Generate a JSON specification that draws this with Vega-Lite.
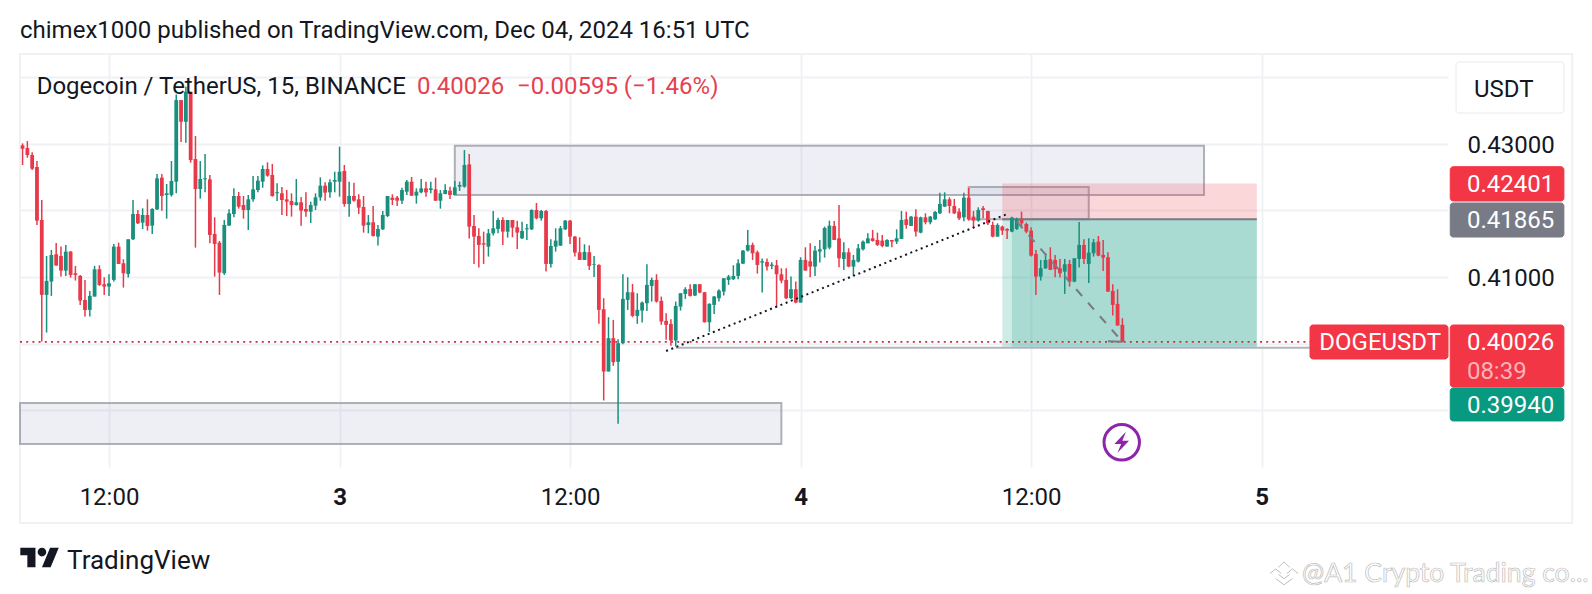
{
  "$schema": "https://vega.github.io/schema/vega-lite/v6.json",
  "width": 1428,
  "height": 413,
  "autosize": {"type": "none"},
  "padding": {"left": 20, "top": 54, "right": 144, "bottom": 127},
  "background": "white",
  "config": {"view": {"stroke": null}, "font": "Roboto"},
  "title": {
    "text": "chimex1000 published on TradingView.com, Dec 04, 2024 16:51 UTC",
    "anchor": "start",
    "frame": "group",
    "font": "Roboto",
    "fontSize": 24,
    "fontWeight": "normal",
    "color": "#131722",
    "baseline": "alphabetic",
    "offset": -9
  },
  "datasets": {
    "candles": [
      {"t":"2024-12-02T07:30:00Z","o":0.42975,"h":0.43005,"l":0.4268,"c":0.42925},
      {"t":"2024-12-02T07:45:00Z","o":0.42935,"h":0.4304,"l":0.4279,"c":0.4283},
      {"t":"2024-12-02T08:00:00Z","o":0.4283,"h":0.4287,"l":0.42605,"c":0.42625},
      {"t":"2024-12-02T08:15:00Z","o":0.4265,"h":0.4274,"l":0.4178,"c":0.41845},
      {"t":"2024-12-02T08:30:00Z","o":0.41855,"h":0.42155,"l":0.4003,"c":0.4073},
      {"t":"2024-12-02T08:45:00Z","o":0.4073,"h":0.41315,"l":0.40165,"c":0.4094},
      {"t":"2024-12-02T09:00:00Z","o":0.4093,"h":0.41405,"l":0.40715,"c":0.4133},
      {"t":"2024-12-02T09:15:00Z","o":0.4134,"h":0.4151,"l":0.4117,"c":0.4117},
      {"t":"2024-12-02T09:30:00Z","o":0.41315,"h":0.41455,"l":0.41005,"c":0.41095},
      {"t":"2024-12-02T09:45:00Z","o":0.41095,"h":0.4148,"l":0.41015,"c":0.4138},
      {"t":"2024-12-02T10:00:00Z","o":0.4138,"h":0.4139,"l":0.4099,"c":0.4103},
      {"t":"2024-12-02T10:15:00Z","o":0.41055,"h":0.41165,"l":0.40945,"c":0.4103},
      {"t":"2024-12-02T10:30:00Z","o":0.41015,"h":0.4103,"l":0.4058,"c":0.40645},
      {"t":"2024-12-02T10:45:00Z","o":0.40655,"h":0.40955,"l":0.40405,"c":0.40505},
      {"t":"2024-12-02T11:00:00Z","o":0.40505,"h":0.4079,"l":0.40405,"c":0.40715},
      {"t":"2024-12-02T11:15:00Z","o":0.40705,"h":0.41165,"l":0.40705,"c":0.41115},
      {"t":"2024-12-02T11:30:00Z","o":0.41115,"h":0.41175,"l":0.40865,"c":0.4088},
      {"t":"2024-12-02T11:45:00Z","o":0.4089,"h":0.40995,"l":0.4073,"c":0.40855},
      {"t":"2024-12-02T12:00:00Z","o":0.40855,"h":0.4104,"l":0.40715,"c":0.40905},
      {"t":"2024-12-02T12:15:00Z","o":0.40955,"h":0.41495,"l":0.4093,"c":0.41455},
      {"t":"2024-12-02T12:30:00Z","o":0.41455,"h":0.41515,"l":0.41195,"c":0.41195},
      {"t":"2024-12-02T12:45:00Z","o":0.41205,"h":0.41265,"l":0.4084,"c":0.41055},
      {"t":"2024-12-02T13:00:00Z","o":0.41045,"h":0.41565,"l":0.4099,"c":0.41565},
      {"t":"2024-12-02T13:15:00Z","o":0.41565,"h":0.42155,"l":0.41555,"c":0.41945},
      {"t":"2024-12-02T13:30:00Z","o":0.41945,"h":0.42005,"l":0.41795,"c":0.41805},
      {"t":"2024-12-02T13:45:00Z","o":0.41815,"h":0.4203,"l":0.4172,"c":0.4193},
      {"t":"2024-12-02T14:00:00Z","o":0.4193,"h":0.42165,"l":0.41695,"c":0.41765},
      {"t":"2024-12-02T14:15:00Z","o":0.4177,"h":0.4203,"l":0.41645,"c":0.4202},
      {"t":"2024-12-02T14:30:00Z","o":0.42015,"h":0.42545,"l":0.42005,"c":0.4248},
      {"t":"2024-12-02T14:45:00Z","o":0.4249,"h":0.42545,"l":0.41995,"c":0.42215},
      {"t":"2024-12-02T15:00:00Z","o":0.4223,"h":0.42395,"l":0.41875,"c":0.42255},
      {"t":"2024-12-02T15:15:00Z","o":0.4223,"h":0.4274,"l":0.42205,"c":0.4244},
      {"t":"2024-12-02T15:30:00Z","o":0.4243,"h":0.4374,"l":0.42255,"c":0.43655},
      {"t":"2024-12-02T15:45:00Z","o":0.43655,"h":0.43655,"l":0.43025,"c":0.4333},
      {"t":"2024-12-02T16:00:00Z","o":0.4333,"h":0.43855,"l":0.43015,"c":0.4378},
      {"t":"2024-12-02T16:15:00Z","o":0.4378,"h":0.4378,"l":0.42715,"c":0.42755},
      {"t":"2024-12-02T16:30:00Z","o":0.4277,"h":0.43115,"l":0.4144,"c":0.4232},
      {"t":"2024-12-02T16:45:00Z","o":0.4232,"h":0.4274,"l":0.42175,"c":0.4247},
      {"t":"2024-12-02T17:00:00Z","o":0.42465,"h":0.42845,"l":0.4227,"c":0.4248},
      {"t":"2024-12-02T17:15:00Z","o":0.42465,"h":0.4253,"l":0.41505,"c":0.4163},
      {"t":"2024-12-02T17:30:00Z","o":0.41645,"h":0.41895,"l":0.41005,"c":0.41495},
      {"t":"2024-12-02T17:45:00Z","o":0.41515,"h":0.4154,"l":0.4073,"c":0.41065},
      {"t":"2024-12-02T18:00:00Z","o":0.41055,"h":0.41855,"l":0.4103,"c":0.4178},
      {"t":"2024-12-02T18:15:00Z","o":0.4177,"h":0.42015,"l":0.4177,"c":0.41955},
      {"t":"2024-12-02T18:30:00Z","o":0.41945,"h":0.4233,"l":0.41895,"c":0.42215},
      {"t":"2024-12-02T18:45:00Z","o":0.42215,"h":0.42275,"l":0.42025,"c":0.42055},
      {"t":"2024-12-02T19:00:00Z","o":0.4208,"h":0.42215,"l":0.41875,"c":0.42005},
      {"t":"2024-12-02T19:15:00Z","o":0.42005,"h":0.4223,"l":0.41705,"c":0.42165},
      {"t":"2024-12-02T19:30:00Z","o":0.42165,"h":0.42515,"l":0.4213,"c":0.42315},
      {"t":"2024-12-02T19:45:00Z","o":0.42305,"h":0.42515,"l":0.4227,"c":0.42445},
      {"t":"2024-12-02T20:00:00Z","o":0.4243,"h":0.42675,"l":0.4234,"c":0.4262},
      {"t":"2024-12-02T20:15:00Z","o":0.4262,"h":0.4272,"l":0.42505,"c":0.4252},
      {"t":"2024-12-02T20:30:00Z","o":0.4253,"h":0.42695,"l":0.42205,"c":0.42215},
      {"t":"2024-12-02T20:45:00Z","o":0.42255,"h":0.42405,"l":0.4214,"c":0.4227},
      {"t":"2024-12-02T21:00:00Z","o":0.42255,"h":0.4235,"l":0.4193,"c":0.42155},
      {"t":"2024-12-02T21:15:00Z","o":0.42165,"h":0.42305,"l":0.41915,"c":0.4213},
      {"t":"2024-12-02T21:30:00Z","o":0.4214,"h":0.42255,"l":0.41905,"c":0.4208},
      {"t":"2024-12-02T21:45:00Z","o":0.4208,"h":0.4247,"l":0.4207,"c":0.4212},
      {"t":"2024-12-02T22:00:00Z","o":0.4212,"h":0.422,"l":0.4177,"c":0.41995},
      {"t":"2024-12-02T22:15:00Z","o":0.4202,"h":0.4227,"l":0.41905,"c":0.4198},
      {"t":"2024-12-02T22:30:00Z","o":0.4198,"h":0.4213,"l":0.4181,"c":0.4208},
      {"t":"2024-12-02T22:45:00Z","o":0.4207,"h":0.42255,"l":0.42005,"c":0.42195},
      {"t":"2024-12-02T23:00:00Z","o":0.42195,"h":0.42495,"l":0.42145,"c":0.4237},
      {"t":"2024-12-02T23:15:00Z","o":0.4237,"h":0.4242,"l":0.42145,"c":0.42265},
      {"t":"2024-12-02T23:30:00Z","o":0.4227,"h":0.42465,"l":0.4219,"c":0.4242},
      {"t":"2024-12-02T23:45:00Z","o":0.4243,"h":0.4258,"l":0.4227,"c":0.42455},
      {"t":"2024-12-03T00:00:00Z","o":0.4243,"h":0.42955,"l":0.42205,"c":0.4258},
      {"t":"2024-12-03T00:15:00Z","o":0.4259,"h":0.4268,"l":0.42055,"c":0.42095},
      {"t":"2024-12-03T00:30:00Z","o":0.42095,"h":0.4243,"l":0.41905,"c":0.42215},
      {"t":"2024-12-03T00:45:00Z","o":0.42215,"h":0.42415,"l":0.4213,"c":0.42145},
      {"t":"2024-12-03T01:00:00Z","o":0.42165,"h":0.4224,"l":0.41945,"c":0.4204},
      {"t":"2024-12-03T01:15:00Z","o":0.4205,"h":0.42215,"l":0.41665,"c":0.4177},
      {"t":"2024-12-03T01:30:00Z","o":0.4178,"h":0.4193,"l":0.41655,"c":0.4182},
      {"t":"2024-12-03T01:45:00Z","o":0.4182,"h":0.42065,"l":0.41605,"c":0.41615},
      {"t":"2024-12-03T02:00:00Z","o":0.41605,"h":0.4178,"l":0.4147,"c":0.4172},
      {"t":"2024-12-03T02:15:00Z","o":0.41715,"h":0.4199,"l":0.41705,"c":0.4193},
      {"t":"2024-12-03T02:30:00Z","o":0.41915,"h":0.42215,"l":0.419,"c":0.42215},
      {"t":"2024-12-03T02:45:00Z","o":0.4219,"h":0.4224,"l":0.4208,"c":0.42155},
      {"t":"2024-12-03T03:00:00Z","o":0.4219,"h":0.42215,"l":0.42065,"c":0.42145},
      {"t":"2024-12-03T03:15:00Z","o":0.42145,"h":0.4234,"l":0.42095,"c":0.42305},
      {"t":"2024-12-03T03:30:00Z","o":0.4228,"h":0.42455,"l":0.4223,"c":0.4243},
      {"t":"2024-12-03T03:45:00Z","o":0.4243,"h":0.425,"l":0.42215,"c":0.4222},
      {"t":"2024-12-03T04:00:00Z","o":0.4222,"h":0.4233,"l":0.421,"c":0.4228},
      {"t":"2024-12-03T04:15:00Z","o":0.4227,"h":0.4247,"l":0.42255,"c":0.4233},
      {"t":"2024-12-03T04:30:00Z","o":0.4233,"h":0.4243,"l":0.42205,"c":0.4227},
      {"t":"2024-12-03T04:45:00Z","o":0.42305,"h":0.4243,"l":0.42255,"c":0.4233},
      {"t":"2024-12-03T05:00:00Z","o":0.42315,"h":0.4249,"l":0.4214,"c":0.42145},
      {"t":"2024-12-03T05:15:00Z","o":0.42145,"h":0.42305,"l":0.42025,"c":0.42255},
      {"t":"2024-12-03T05:30:00Z","o":0.42245,"h":0.4239,"l":0.4224,"c":0.42305},
      {"t":"2024-12-03T05:45:00Z","o":0.42295,"h":0.42355,"l":0.4217,"c":0.4223},
      {"t":"2024-12-03T06:00:00Z","o":0.4223,"h":0.4244,"l":0.4223,"c":0.42345},
      {"t":"2024-12-03T06:15:00Z","o":0.42355,"h":0.4243,"l":0.4229,"c":0.4238},
      {"t":"2024-12-03T06:30:00Z","o":0.42355,"h":0.42905,"l":0.4234,"c":0.4268},
      {"t":"2024-12-03T06:45:00Z","o":0.4269,"h":0.42845,"l":0.41575,"c":0.41755},
      {"t":"2024-12-03T07:00:00Z","o":0.41765,"h":0.4193,"l":0.41195,"c":0.41605},
      {"t":"2024-12-03T07:15:00Z","o":0.41615,"h":0.4173,"l":0.4114,"c":0.4148},
      {"t":"2024-12-03T07:30:00Z","o":0.41505,"h":0.4168,"l":0.41195,"c":0.41485},
      {"t":"2024-12-03T07:45:00Z","o":0.41455,"h":0.4172,"l":0.41305,"c":0.41655},
      {"t":"2024-12-03T08:00:00Z","o":0.41655,"h":0.4199,"l":0.4162,"c":0.4173},
      {"t":"2024-12-03T08:15:00Z","o":0.4172,"h":0.4189,"l":0.41655,"c":0.41855},
      {"t":"2024-12-03T08:30:00Z","o":0.41855,"h":0.41895,"l":0.4148,"c":0.4168},
      {"t":"2024-12-03T08:45:00Z","o":0.4168,"h":0.41855,"l":0.4159,"c":0.41855},
      {"t":"2024-12-03T09:00:00Z","o":0.41855,"h":0.41855,"l":0.41595,"c":0.4174},
      {"t":"2024-12-03T09:15:00Z","o":0.41745,"h":0.41845,"l":0.4142,"c":0.41665},
      {"t":"2024-12-03T09:30:00Z","o":0.4158,"h":0.4183,"l":0.4157,"c":0.4169},
      {"t":"2024-12-03T09:45:00Z","o":0.41715,"h":0.41795,"l":0.41555,"c":0.4173},
      {"t":"2024-12-03T10:00:00Z","o":0.41715,"h":0.42015,"l":0.41705,"c":0.42005},
      {"t":"2024-12-03T10:15:00Z","o":0.42005,"h":0.4211,"l":0.41865,"c":0.4188},
      {"t":"2024-12-03T10:30:00Z","o":0.4188,"h":0.42005,"l":0.41845,"c":0.4199},
      {"t":"2024-12-03T10:45:00Z","o":0.4199,"h":0.42005,"l":0.4108,"c":0.41195},
      {"t":"2024-12-03T11:00:00Z","o":0.41195,"h":0.41565,"l":0.4114,"c":0.41465},
      {"t":"2024-12-03T11:15:00Z","o":0.41455,"h":0.4173,"l":0.4138,"c":0.41545},
      {"t":"2024-12-03T11:30:00Z","o":0.4147,"h":0.41765,"l":0.41465,"c":0.4173},
      {"t":"2024-12-03T11:45:00Z","o":0.41715,"h":0.41855,"l":0.41705,"c":0.41845},
      {"t":"2024-12-03T12:00:00Z","o":0.41845,"h":0.41855,"l":0.41495,"c":0.41605},
      {"t":"2024-12-03T12:15:00Z","o":0.41605,"h":0.41615,"l":0.41305,"c":0.41365},
      {"t":"2024-12-03T12:30:00Z","o":0.4137,"h":0.41595,"l":0.41255,"c":0.41255},
      {"t":"2024-12-03T12:45:00Z","o":0.41255,"h":0.4149,"l":0.41255,"c":0.41375},
      {"t":"2024-12-03T13:00:00Z","o":0.4137,"h":0.41475,"l":0.41105,"c":0.41165},
      {"t":"2024-12-03T13:15:00Z","o":0.4118,"h":0.41315,"l":0.41,"c":0.4119},
      {"t":"2024-12-03T13:30:00Z","o":0.4118,"h":0.4119,"l":0.40295,"c":0.40505},
      {"t":"2024-12-03T13:45:00Z","o":0.40515,"h":0.4068,"l":0.39145,"c":0.3958},
      {"t":"2024-12-03T14:00:00Z","o":0.3958,"h":0.40395,"l":0.3958,"c":0.4008},
      {"t":"2024-12-03T14:15:00Z","o":0.4008,"h":0.40355,"l":0.39665,"c":0.3972},
      {"t":"2024-12-03T14:30:00Z","o":0.39725,"h":0.40065,"l":0.38795,"c":0.40005},
      {"t":"2024-12-03T14:45:00Z","o":0.40005,"h":0.4104,"l":0.3999,"c":0.4067},
      {"t":"2024-12-03T15:00:00Z","o":0.40655,"h":0.40995,"l":0.40505,"c":0.4077},
      {"t":"2024-12-03T15:15:00Z","o":0.4077,"h":0.40895,"l":0.40395,"c":0.40415},
      {"t":"2024-12-03T15:30:00Z","o":0.40415,"h":0.40755,"l":0.40295,"c":0.40505},
      {"t":"2024-12-03T15:45:00Z","o":0.40495,"h":0.4063,"l":0.40315,"c":0.40615},
      {"t":"2024-12-03T16:00:00Z","o":0.40605,"h":0.4119,"l":0.4049,"c":0.4088},
      {"t":"2024-12-03T16:15:00Z","o":0.40865,"h":0.4099,"l":0.4063,"c":0.40955},
      {"t":"2024-12-03T16:30:00Z","o":0.40955,"h":0.4104,"l":0.40615,"c":0.4063},
      {"t":"2024-12-03T16:45:00Z","o":0.4064,"h":0.40705,"l":0.4028,"c":0.4033},
      {"t":"2024-12-03T17:00:00Z","o":0.4034,"h":0.40455,"l":0.40055,"c":0.4028},
      {"t":"2024-12-03T17:15:00Z","o":0.40295,"h":0.40365,"l":0.39965,"c":0.40045},
      {"t":"2024-12-03T17:30:00Z","o":0.40045,"h":0.4063,"l":0.39955,"c":0.40565},
      {"t":"2024-12-03T17:45:00Z","o":0.40555,"h":0.40755,"l":0.40495,"c":0.40755},
      {"t":"2024-12-03T18:00:00Z","o":0.40745,"h":0.40845,"l":0.4067,"c":0.40815},
      {"t":"2024-12-03T18:15:00Z","o":0.4082,"h":0.4089,"l":0.40705,"c":0.40715},
      {"t":"2024-12-03T18:30:00Z","o":0.4072,"h":0.4089,"l":0.40715,"c":0.4089},
      {"t":"2024-12-03T18:45:00Z","o":0.4089,"h":0.40895,"l":0.40755,"c":0.40765},
      {"t":"2024-12-03T19:00:00Z","o":0.4077,"h":0.40775,"l":0.40315,"c":0.4032},
      {"t":"2024-12-03T19:15:00Z","o":0.4032,"h":0.40605,"l":0.40175,"c":0.40595},
      {"t":"2024-12-03T19:30:00Z","o":0.4058,"h":0.40715,"l":0.40445,"c":0.40705},
      {"t":"2024-12-03T19:45:00Z","o":0.4068,"h":0.40815,"l":0.4063,"c":0.40795},
      {"t":"2024-12-03T20:00:00Z","o":0.4078,"h":0.4098,"l":0.4072,"c":0.4098},
      {"t":"2024-12-03T20:15:00Z","o":0.40955,"h":0.4103,"l":0.4088,"c":0.41005},
      {"t":"2024-12-03T20:30:00Z","o":0.40965,"h":0.41175,"l":0.40955,"c":0.41015},
      {"t":"2024-12-03T20:45:00Z","o":0.41015,"h":0.41265,"l":0.40965,"c":0.41205},
      {"t":"2024-12-03T21:00:00Z","o":0.412,"h":0.41405,"l":0.41195,"c":0.41395},
      {"t":"2024-12-03T21:15:00Z","o":0.41395,"h":0.41705,"l":0.4138,"c":0.4148},
      {"t":"2024-12-03T21:30:00Z","o":0.4148,"h":0.41515,"l":0.41255,"c":0.41355},
      {"t":"2024-12-03T21:45:00Z","o":0.4137,"h":0.41395,"l":0.4105,"c":0.4118},
      {"t":"2024-12-03T22:00:00Z","o":0.41215,"h":0.41275,"l":0.40765,"c":0.41235},
      {"t":"2024-12-03T22:15:00Z","o":0.41225,"h":0.41275,"l":0.41095,"c":0.41155},
      {"t":"2024-12-03T22:30:00Z","o":0.41165,"h":0.4122,"l":0.41115,"c":0.41185},
      {"t":"2024-12-03T22:45:00Z","o":0.41175,"h":0.41255,"l":0.40555,"c":0.4104},
      {"t":"2024-12-03T23:00:00Z","o":0.4104,"h":0.4113,"l":0.40905,"c":0.40945},
      {"t":"2024-12-03T23:15:00Z","o":0.40955,"h":0.4113,"l":0.4067,"c":0.4068},
      {"t":"2024-12-03T23:30:00Z","o":0.4068,"h":0.41005,"l":0.4067,"c":0.40815},
      {"t":"2024-12-03T23:45:00Z","o":0.40815,"h":0.4093,"l":0.40605,"c":0.40615},
      {"t":"2024-12-04T00:00:00Z","o":0.40615,"h":0.41295,"l":0.40615,"c":0.41255},
      {"t":"2024-12-04T00:15:00Z","o":0.41255,"h":0.41445,"l":0.41095,"c":0.41095},
      {"t":"2024-12-04T00:30:00Z","o":0.41235,"h":0.41505,"l":0.40995,"c":0.41155},
      {"t":"2024-12-04T00:45:00Z","o":0.41155,"h":0.41465,"l":0.41015,"c":0.41395},
      {"t":"2024-12-04T01:00:00Z","o":0.4138,"h":0.41555,"l":0.41215,"c":0.41415},
      {"t":"2024-12-04T01:15:00Z","o":0.41415,"h":0.41755,"l":0.4129,"c":0.41735},
      {"t":"2024-12-04T01:30:00Z","o":0.4144,"h":0.41845,"l":0.41415,"c":0.4177},
      {"t":"2024-12-04T01:45:00Z","o":0.41765,"h":0.4184,"l":0.41555,"c":0.41555},
      {"t":"2024-12-04T02:00:00Z","o":0.4158,"h":0.4208,"l":0.41145,"c":0.4128},
      {"t":"2024-12-04T02:15:00Z","o":0.4127,"h":0.4152,"l":0.41105,"c":0.4137},
      {"t":"2024-12-04T02:30:00Z","o":0.4137,"h":0.4143,"l":0.41145,"c":0.41155},
      {"t":"2024-12-04T02:45:00Z","o":0.41155,"h":0.4133,"l":0.41015,"c":0.41255},
      {"t":"2024-12-04T03:00:00Z","o":0.4123,"h":0.41495,"l":0.41215,"c":0.4143},
      {"t":"2024-12-04T03:15:00Z","o":0.41415,"h":0.41545,"l":0.41395,"c":0.4153},
      {"t":"2024-12-04T03:30:00Z","o":0.41505,"h":0.41655,"l":0.41505,"c":0.4158},
      {"t":"2024-12-04T03:45:00Z","o":0.4158,"h":0.41705,"l":0.4153,"c":0.4154},
      {"t":"2024-12-04T04:00:00Z","o":0.41555,"h":0.41665,"l":0.41465,"c":0.4148},
      {"t":"2024-12-04T04:15:00Z","o":0.41545,"h":0.4163,"l":0.41445,"c":0.41465},
      {"t":"2024-12-04T04:30:00Z","o":0.41455,"h":0.41565,"l":0.41455,"c":0.41555},
      {"t":"2024-12-04T04:45:00Z","o":0.41555,"h":0.41555,"l":0.41445,"c":0.4153},
      {"t":"2024-12-04T05:00:00Z","o":0.4153,"h":0.41715,"l":0.41495,"c":0.4158},
      {"t":"2024-12-04T05:15:00Z","o":0.4157,"h":0.4199,"l":0.4157,"c":0.41855},
      {"t":"2024-12-04T05:30:00Z","o":0.41865,"h":0.4198,"l":0.41725,"c":0.4178},
      {"t":"2024-12-04T05:45:00Z","o":0.41765,"h":0.41915,"l":0.41765,"c":0.41905},
      {"t":"2024-12-04T06:00:00Z","o":0.41905,"h":0.42015,"l":0.41605,"c":0.4168},
      {"t":"2024-12-04T06:15:00Z","o":0.41665,"h":0.41905,"l":0.41655,"c":0.41895},
      {"t":"2024-12-04T06:30:00Z","o":0.41895,"h":0.41955,"l":0.4179,"c":0.4182},
      {"t":"2024-12-04T06:45:00Z","o":0.4182,"h":0.41915,"l":0.4179,"c":0.41905},
      {"t":"2024-12-04T07:00:00Z","o":0.41865,"h":0.4199,"l":0.41855,"c":0.41975},
      {"t":"2024-12-04T07:15:00Z","o":0.41955,"h":0.42265,"l":0.41945,"c":0.42095},
      {"t":"2024-12-04T07:30:00Z","o":0.42055,"h":0.4227,"l":0.42055,"c":0.42165},
      {"t":"2024-12-04T07:45:00Z","o":0.42165,"h":0.42195,"l":0.41955,"c":0.42065},
      {"t":"2024-12-04T08:00:00Z","o":0.42065,"h":0.4217,"l":0.41945,"c":0.41955},
      {"t":"2024-12-04T08:15:00Z","o":0.4198,"h":0.4203,"l":0.41855,"c":0.4188},
      {"t":"2024-12-04T08:30:00Z","o":0.41895,"h":0.42265,"l":0.41835,"c":0.4219},
      {"t":"2024-12-04T08:45:00Z","o":0.4219,"h":0.42335,"l":0.41845,"c":0.41865},
      {"t":"2024-12-04T09:00:00Z","o":0.41905,"h":0.4199,"l":0.4173,"c":0.41845},
      {"t":"2024-12-04T09:15:00Z","o":0.41845,"h":0.42045,"l":0.4183,"c":0.42005},
      {"t":"2024-12-04T09:30:00Z","o":0.4203,"h":0.42065,"l":0.4188,"c":0.42005},
      {"t":"2024-12-04T09:45:00Z","o":0.4199,"h":0.41995,"l":0.4178,"c":0.41805},
      {"t":"2024-12-04T10:00:00Z","o":0.4178,"h":0.4183,"l":0.41595,"c":0.41605},
      {"t":"2024-12-04T10:15:00Z","o":0.41605,"h":0.41805,"l":0.41605,"c":0.4178},
      {"t":"2024-12-04T10:30:00Z","o":0.41755,"h":0.4177,"l":0.4163,"c":0.41695},
      {"t":"2024-12-04T10:45:00Z","o":0.4172,"h":0.4173,"l":0.4157,"c":0.41695},
      {"t":"2024-12-04T11:00:00Z","o":0.4168,"h":0.41905,"l":0.4167,"c":0.4189},
      {"t":"2024-12-04T11:15:00Z","o":0.4172,"h":0.4189,"l":0.41705,"c":0.41865},
      {"t":"2024-12-04T11:30:00Z","o":0.41855,"h":0.4198,"l":0.41755,"c":0.41805},
      {"t":"2024-12-04T11:45:00Z","o":0.41795,"h":0.41815,"l":0.41655,"c":0.4168},
      {"t":"2024-12-04T12:00:00Z","o":0.41695,"h":0.41745,"l":0.41305,"c":0.4132},
      {"t":"2024-12-04T12:15:00Z","o":0.41345,"h":0.41405,"l":0.4073,"c":0.41005},
      {"t":"2024-12-04T12:30:00Z","o":0.41005,"h":0.41255,"l":0.40945,"c":0.4113},
      {"t":"2024-12-04T12:45:00Z","o":0.4113,"h":0.41355,"l":0.4112,"c":0.41255},
      {"t":"2024-12-04T13:00:00Z","o":0.41265,"h":0.41445,"l":0.41105,"c":0.41105},
      {"t":"2024-12-04T13:15:00Z","o":0.41255,"h":0.4133,"l":0.40995,"c":0.41115},
      {"t":"2024-12-04T13:30:00Z","o":0.4113,"h":0.4127,"l":0.4099,"c":0.41055},
      {"t":"2024-12-04T13:45:00Z","o":0.4108,"h":0.4127,"l":0.40745,"c":0.4119},
      {"t":"2024-12-04T14:00:00Z","o":0.41195,"h":0.41255,"l":0.40855,"c":0.4093},
      {"t":"2024-12-04T14:15:00Z","o":0.4093,"h":0.4128,"l":0.4092,"c":0.4128},
      {"t":"2024-12-04T14:30:00Z","o":0.4127,"h":0.41825,"l":0.4114,"c":0.4148},
      {"t":"2024-12-04T14:45:00Z","o":0.4148,"h":0.41565,"l":0.41195,"c":0.4127},
      {"t":"2024-12-04T15:00:00Z","o":0.41195,"h":0.4158,"l":0.4091,"c":0.41365},
      {"t":"2024-12-04T15:15:00Z","o":0.41355,"h":0.4157,"l":0.41305,"c":0.4152},
      {"t":"2024-12-04T15:30:00Z","o":0.4153,"h":0.41615,"l":0.4131,"c":0.4132},
      {"t":"2024-12-04T15:45:00Z","o":0.4133,"h":0.41555,"l":0.4109,"c":0.4129},
      {"t":"2024-12-04T16:00:00Z","o":0.41295,"h":0.4137,"l":0.40775,"c":0.4078},
      {"t":"2024-12-04T16:15:00Z","o":0.4079,"h":0.4089,"l":0.4042,"c":0.4058},
      {"t":"2024-12-04T16:30:00Z","o":0.40595,"h":0.40815,"l":0.4027,"c":0.4027},
      {"t":"2024-12-04T16:45:00Z","o":0.4028,"h":0.4038,"l":0.4002,"c":0.40026}
    ],
    "zones": [
      {"t":"2024-12-02T07:22:00Z","t2":"2024-12-03T23:00:00Z","hi":0.39107,"lo":0.38491},
      {"t":"2024-12-03T06:00:00Z","t2":"2024-12-04T21:00:00Z","hi":0.4297,"lo":0.4223},
      {"t":"2024-12-04T08:45:00Z","t2":"2024-12-04T15:00:00Z","hi":0.4235,"lo":0.41865}
    ],
    "position": [
      {"t":"2024-12-04T10:30:00Z","t2":"2024-12-04T23:45:00Z","hi":0.42401,"lo":0.41865,"kind":"stop"},
      {"t":"2024-12-04T10:30:00Z","t2":"2024-12-04T11:00:00Z","hi":0.41865,"lo":0.3994,"kind":"entry"},
      {"t":"2024-12-04T11:00:00Z","t2":"2024-12-04T23:45:00Z","hi":0.41865,"lo":0.3994,"kind":"target"}
    ],
    "levels": [
      {"t":"2024-12-02T07:22:00Z","t2":"2024-12-05T02:31:00Z","p":0.40026,"kind":"last"},
      {"t":"2024-12-03T17:30:00Z","t2":"2024-12-05T02:31:00Z","p":0.39937,"kind":"support"},
      {"t":"2024-12-04T10:30:00Z","t2":"2024-12-04T23:45:00Z","p":0.41865,"kind":"entry"}
    ],
    "tags": [
      {"t":"2024-12-05T10:07:00Z","t2":"2024-12-05T15:44:00Z","hi":0.44227,"lo":0.43461,"kind":"button"},
      {"t":"2024-12-05T02:31:00Z","t2":"2024-12-05T09:42:00Z","hi":0.40278,"lo":0.39768,"kind":"red"},
      {"t":"2024-12-05T09:49:00Z","t2":"2024-12-05T15:44:00Z","hi":0.42655,"lo":0.4214,"kind":"red"},
      {"t":"2024-12-05T09:49:00Z","t2":"2024-12-05T15:44:00Z","hi":0.4211,"lo":0.41599,"kind":"gray"},
      {"t":"2024-12-05T09:49:00Z","t2":"2024-12-05T15:44:00Z","hi":0.40278,"lo":0.39347,"kind":"red"},
      {"t":"2024-12-05T09:49:00Z","t2":"2024-12-05T15:44:00Z","hi":0.39332,"lo":0.38837,"kind":"green"}
    ],
    "labels": [
      {"t":"2024-12-02T08:14:00Z","p":0.43881,"label":"Dogecoin / TetherUS, 15, BINANCE","tone":"ink"},
      {"t":"2024-12-03T04:02:00Z","p":0.43881,"label":"0.40026","tone":"red"},
      {"t":"2024-12-03T09:14:00Z","p":0.43881,"label":"−0.00595 (−1.46%)","tone":"red"},
      {"t":"2024-12-05T11:03:00Z","p":0.43836,"label":"USDT","tone":"ink"},
      {"t":"2024-12-05T03:00:00Z","p":0.40026,"label":"DOGEUSDT","tone":"white"},
      {"t":"2024-12-05T10:41:00Z","p":0.42401,"label":"0.42401","tone":"white"},
      {"t":"2024-12-05T10:41:00Z","p":0.41865,"label":"0.41865","tone":"white"},
      {"t":"2024-12-05T10:41:00Z","p":0.40026,"label":"0.40026","tone":"white"},
      {"t":"2024-12-05T10:41:00Z","p":0.39592,"label":"08:39","tone":"pink"},
      {"t":"2024-12-05T10:41:00Z","p":0.39091,"label":"0.39940","tone":"white"}
    ]
  },
  "encoding": {
    "x": {
      "field": "t",
      "type": "temporal",
      "scale": {
        "type": "utc",
        "padding": 0,
        "domain": [
          {"year": 2024, "month": 12, "date": 2, "hours": 7, "minutes": 22, "utc": true},
          {"year": 2024, "month": 12, "date": 5, "hours": 9, "minutes": 42, "utc": true}
        ]
      },
      "axis": {
        "title": null,
        "values": [
          {"year": 2024, "month": 12, "date": 2, "hours": 12, "utc": true},
          {"year": 2024, "month": 12, "date": 3, "hours": 0, "utc": true},
          {"year": 2024, "month": 12, "date": 3, "hours": 12, "utc": true},
          {"year": 2024, "month": 12, "date": 4, "hours": 0, "utc": true},
          {"year": 2024, "month": 12, "date": 4, "hours": 12, "utc": true},
          {"year": 2024, "month": 12, "date": 5, "hours": 0, "utc": true}
        ],
        "labelExpr": "utchours(datum.value) == 12 ? '12:00' : '' + utcdate(datum.value)",
        "labelFontWeight": {"condition": {"test": "utchours(datum.value) == 0", "value": "bold"}, "value": "normal"},
        "labelFont": "Roboto",
        "labelFontSize": 24,
        "labelColor": "#131722",
        "labelPadding": 18,
        "labelAngle": 0,
        "labelOverlap": false,
        "domain": false,
        "ticks": false,
        "grid": true,
        "gridColor": "#f0f1f4",
        "gridWidth": 1.8
      }
    },
    "y": {
      "field": "p",
      "type": "quantitative",
      "scale": {"domain": [0.38146, 0.44347], "zero": false, "nice": false},
      "axis": {
        "title": null,
        "orient": "right",
        "values": [0.39, 0.4, 0.41, 0.42, 0.43, 0.44],
        "labelExpr": "abs(datum.value - 0.43) < 0.0001 || abs(datum.value - 0.41) < 0.0001 ? format(datum.value, '.5f') : ''",
        "labelFont": "Roboto",
        "labelFontSize": 24,
        "labelColor": "#131722",
        "labelPadding": 19,
        "labelOffset": 1.5,
        "labelOverlap": false,
        "domain": false,
        "ticks": false,
        "grid": true,
        "gridColor": "#f0f1f4",
        "gridWidth": 1.8
      }
    }
  },
  "layer": [
    {
      "data": {"values": [{"t": "2024-12-02T07:22:00Z", "t2": "2024-12-05T16:10:00Z", "hi": 0.44347, "lo": 0.37305}]},
      "mark": {"type": "rect", "fill": null, "stroke": "#f0f1f4", "strokeWidth": 2},
      "encoding": {"x2": {"field": "t2"}, "y": {"field": "hi", "type": "quantitative"}, "y2": {"field": "lo"}}
    },
    {
      "data": {"name": "zones"},
      "mark": {"type": "rect", "fill": "#7b84b0", "fillOpacity": 0.13, "stroke": "#9598a1", "strokeOpacity": 0.75, "strokeWidth": 2},
      "encoding": {"x2": {"field": "t2"}, "y": {"field": "hi", "type": "quantitative"}, "y2": {"field": "lo"}}
    },
    {
      "data": {"name": "position"},
      "mark": {"type": "rect"},
      "encoding": {
        "x2": {"field": "t2"},
        "y": {"field": "hi", "type": "quantitative"},
        "y2": {"field": "lo"},
        "fill": {
          "field": "kind",
          "type": "nominal",
          "legend": null,
          "scale": {
            "domain": ["stop", "entry", "target"],
            "range": ["rgba(242,54,69,0.2)", "rgba(8,153,129,0.2)", "rgba(8,153,129,0.35)"]
          }
        }
      }
    },
    {
      "data": {"name": "levels"},
      "transform": [{"filter": "datum.kind != 'last'"}],
      "mark": {"type": "rule", "strokeWidth": 2},
      "encoding": {
        "x2": {"field": "t2"},
        "color": {
          "field": "kind",
          "type": "nominal",
          "legend": null,
          "scale": {"domain": ["support", "entry"], "range": ["#b2b5be", "#787b86"]}
        }
      }
    },
    {
      "data": {"name": "levels"},
      "transform": [{"filter": "datum.kind == 'last'"}],
      "mark": {"type": "rule", "color": "#c8303f", "strokeWidth": 1.8, "strokeDash": [2, 4.2]},
      "encoding": {"x2": {"field": "t2"}}
    },
    {
      "data": {"name": "candles"},
      "mark": {"type": "rule", "strokeWidth": 1.5},
      "encoding": {
        "y": {"field": "l", "type": "quantitative"},
        "y2": {"field": "h"},
        "color": {"condition": {"test": "datum.c >= datum.o", "value": "#1a8f7d"}, "value": "#e8394a"}
      }
    },
    {
      "data": {"name": "candles"},
      "mark": {"type": "bar", "width": 3.8},
      "encoding": {
        "y": {"field": "o", "type": "quantitative"},
        "y2": {"field": "c"},
        "color": {"condition": {"test": "datum.c >= datum.o", "value": "#1a8f7d"}, "value": "#e8394a"}
      }
    },
    {
      "data": {"values": [{"t": "2024-12-03T17:00:00Z", "p": 0.39887}, {"t": "2024-12-04T10:45:00Z", "p": 0.41944}]},
      "mark": {"type": "line", "color": "#131722", "strokeWidth": 2, "strokeDash": [2, 3.6]}
    },
    {
      "data": {"values": [{"t": "2024-12-04T11:15:00Z", "p": 0.4183}, {"t": "2024-12-04T16:45:00Z", "p": 0.40026}]},
      "mark": {"type": "line", "color": "#787b86", "strokeWidth": 2, "strokeDash": [9, 9]}
    },
    {
      "data": {"values": [{"t": "2024-12-04T16:00:00Z", "p": 0.40035}, {"t": "2024-12-04T16:45:00Z", "p": 0.40026}]},
      "mark": {"type": "line", "color": "#787b86", "strokeWidth": 2}
    },
    {
      "data": {"name": "tags"},
      "mark": {"type": "rect", "cornerRadius": 3},
      "encoding": {
        "x2": {"field": "t2"},
        "y": {"field": "hi", "type": "quantitative"},
        "y2": {"field": "lo"},
        "fill": {
          "field": "kind",
          "type": "nominal",
          "legend": null,
          "scale": {
            "domain": ["button", "red", "gray", "green"],
            "range": ["#ffffff", "#f23645", "#787b86", "#089981"]
          }
        },
        "stroke": {
          "field": "kind",
          "type": "nominal",
          "legend": null,
          "scale": {
            "domain": ["button", "red", "gray", "green"],
            "range": ["#e8eaee", "#f23645", "#787b86", "#089981"]
          }
        }
      }
    },
    {
      "data": {"name": "labels"},
      "mark": {"type": "text", "align": "left", "baseline": "middle", "font": "Roboto", "fontSize": 24, "dy": 1.5},
      "encoding": {
        "text": {"field": "label"},
        "color": {
          "field": "tone",
          "type": "nominal",
          "legend": null,
          "scale": {
            "domain": ["ink", "red", "white", "pink"],
            "range": ["#131722", "#e5414f", "#ffffff", "#fbb4ba"]
          }
        }
      }
    },
    {
      "data": {"values": [{"t": "2024-12-02T09:49:00Z", "p": 0.36787, "label": "TradingView"}]},
      "mark": {"type": "text", "align": "left", "baseline": "middle", "font": "Roboto", "fontSize": 26, "color": "#131722", "dy": 3}
    ,
      "encoding": {"text": {"field": "label"}}
    },
    {
      "data": {"values": [{"t": "2024-12-02T08:23:00Z", "p": 0.36787}]},
      "mark": {
        "type": "point",
        "filled": true,
        "size": 6084,
        "opacity": 1,
        "color": "#131722",
        "shape": "M-.1042 .25H-.3125V-.0556H-.4931V-.25H-.1042ZM.2847 .25H.0625L.2708 -.25H.4931ZM-.0486 -.1389a.1111 .1111 0 1 0 .2222 0a.1111 .1111 0 1 0 -.2222 0Z"
      }
    },
    {
      "data": {"values": [{"t": "2024-12-04T16:43:00Z", "p": 0.38516}]},
      "mark": {"type": "point", "shape": "circle", "size": 1257, "opacity": 1, "filled": false, "color": "#8e24aa", "strokeWidth": 3}
    },
    {
      "data": {"values": [{"t": "2024-12-04T16:43:00Z", "p": 0.38516}]},
      "mark": {
        "type": "point",
        "filled": true,
        "size": 1760,
        "opacity": 1,
        "color": "#8e24aa",
        "shape": "M.2 -.5L-.35 .08H-.03L-.2 .5L.35 -.08H.03Z"
      }
    },
    {
      "data": {"values": [{"t": "2024-12-05T01:10:00Z", "p": 0.36554}]},
      "mark": {
        "type": "point",
        "filled": false,
        "size": 3136,
        "opacity": 1,
        "color": "#bdbdbd",
        "strokeWidth": 1,
        "shape": "M-.2 -.2L0 -.4L.2 -.2M-.5 .02L-.3 -.15L-.1 .02M.1 .02L.3 -.15L.5 .02M-.2 .05L0 .2L.2 .05M-.3 .2L0 .42L.3 .2"
      }
    },
    {
      "data": {"values": [{"t": "2024-12-05T02:06:00Z", "p": 0.36539, "label": "@A1 Crypto Trading co..."}]},
      "mark": {"type": "text", "align": "left", "baseline": "middle", "font": "Lato", "fontSize": 26.5, "fill": "#ffffff", "stroke": "#bdbdbd", "strokeWidth": 0.7},
      "encoding": {"text": {"field": "label"}}
    }
  ],
  "resolve": {"scale": {"fill": "independent", "stroke": "independent", "color": "independent"}}
}
